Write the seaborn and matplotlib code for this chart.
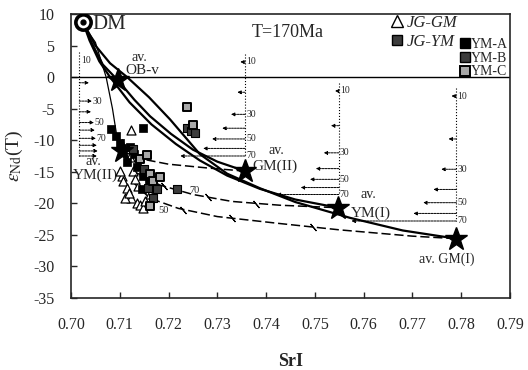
import numpy as np
import pandas as pd
import matplotlib
matplotlib.use('Agg')
import matplotlib.pyplot as plt
import seaborn as sns
from matplotlib.lines import Line2D

# ---- end-members (SrI, eNd(T)) ----
dm = (0.7024, 8.8)
ob_v = (0.7096, -0.5)
gm2 = (0.7357, -14.9)
ym1 = (0.7548, -20.7)
gm1 = (0.7790, -25.6)
ym2 = (0.7105, -11.7)

# ---- mixing curves ----
c_gm2_x = [0.7024, 0.7042, 0.7065, 0.7096, 0.7130, 0.7162, 0.7205, 0.7250, 0.7300, 0.7357]
c_gm2_y = [8.8, 5.5, 2.0, -0.5, -3.6, -6.2, -9.0, -11.5, -13.4, -14.9]
c_ym1_x = [0.7024, 0.7038, 0.7058, 0.7080, 0.7120, 0.7165, 0.7215, 0.7264, 0.7320, 0.7387, 0.7460, 0.7548]
c_ym1_y = [8.8, 5.8, 2.5, 0.0, -4.0, -7.5, -10.6, -13.2, -15.6, -17.7, -19.4, -20.7]
c_gm1_x = [0.7024, 0.7050, 0.7080, 0.7115, 0.7160, 0.7203, 0.7264, 0.7320, 0.7387, 0.7460, 0.7572, 0.7680, 0.7790]
c_gm1_y = [8.8, 5.0, 2.2, 0.0, -3.2, -6.7, -12.2, -15.3, -17.6, -19.8, -22.3, -24.3, -25.6]
c_ym2_x = [0.7024, 0.7035, 0.7050, 0.7072, 0.7085, 0.7094, 0.7103]
c_ym2_y = [8.8, 7.2, 5.5, 0.0, -5.0, -9.4, -11.7]

d_gm2_x = [0.7105, 0.7140, 0.7200, 0.7280, 0.7357]
d_gm2_y = [-11.7, -12.9, -13.8, -14.4, -14.9]
d_ym1_x = [0.7130, 0.7182, 0.7250, 0.7330, 0.7428, 0.7548]
d_ym1_y = [-15.0, -17.1, -18.6, -19.7, -20.3, -20.7]
d_gm1_x = [0.7125, 0.7162, 0.7220, 0.7300, 0.7428, 0.7550, 0.7700, 0.7790]
d_gm1_y = [-16.5, -19.2, -20.8, -22.1, -23.2, -24.2, -25.2, -25.6]
tick_x = [0.7190, 0.7280, 0.7380, 0.7230, 0.7330, 0.7496]
tick_y = [-17.3, -19.0, -20.1, -21.0, -22.4, -23.8]

# ---- samples ----
gm_x = [0.7124, 0.7104, 0.7107, 0.7114, 0.7124, 0.7111, 0.7135, 0.7141, 0.7148,
        0.7128, 0.7138, 0.7162, 0.7121, 0.7100, 0.7118, 0.7131, 0.7152]
gm_y = [-8.4, -15.7, -16.5, -17.5, -19.1, -19.1, -19.9, -20.2, -20.7,
        -14.9, -17.3, -18.6, -12.7, -14.9, -18.3, -16.2, -19.6]
ya_x = [0.7083, 0.7092, 0.7100, 0.7104, 0.7148, 0.7114, 0.7135, 0.7148, 0.7145, 0.7130, 0.7160, 0.7120]
ya_y = [-8.3, -9.3, -10.5, -11.2, -8.1, -13.5, -14.3, -15.7, -17.8, -12.2, -16.8, -11.0]
yb_x = [0.7237, 0.7245, 0.7255, 0.7217, 0.7158, 0.7169, 0.7176, 0.7128, 0.7150]
yb_y = [-8.0, -8.6, -8.8, -17.8, -17.5, -19.1, -17.8, -11.4, -14.5]
yc_x = [0.7237, 0.7141, 0.7162, 0.7169, 0.7162, 0.7182, 0.7250, 0.7155]
yc_y = [-4.8, -13.0, -15.4, -16.5, -20.4, -15.9, -7.6, -12.3]

# ---- proportion scales: position, arrow levels (10..70), arrow lengths ----
sc_left_x = 0.7017
sc_left_lev = [-0.9, -3.8, -5.5, -7.2, -8.4, -9.7, -10.8, -11.7, -12.5]
sc_left_len = [0.0020, 0.0026, 0.0024, 0.0030, 0.0032, 0.0034, 0.0036, 0.0038, 0.0036]
sc_left_lab = {'10': 2.7, '30': -3.8, '50': -7.2, '70': -9.7}

sc_x = [0.7357, 0.7549, 0.7790]
sc_lev = [[2.4, -2.4, -5.9, -8.1, -9.8, -11.3, -12.5],
          [-2.2, -7.7, -12.0, -14.5, -16.2, -17.5, -18.6],
          [-3.0, -9.8, -14.6, -17.8, -19.9, -21.6, -22.8]]
sc_len = [[0.0010, 0.0016, 0.0029, 0.0047, 0.0068, 0.0086, 0.0133],
          [0.0008, 0.0016, 0.0031, 0.0047, 0.0059, 0.0078, 0.0127],
          [0.0010, 0.0016, 0.0031, 0.0047, 0.0068, 0.0088, 0.0215]]
sc_names = ['10', '20', '30', '40', '50', '60', '70']

sns.set_style('ticks')
plt.rcParams['font.family'] = ['Liberation Serif', 'DejaVu Serif']
plt.rcParams['mathtext.fontset'] = 'stix'
plt.rcParams['axes.unicode_minus'] = False

fig = plt.figure(figsize=(5.28, 3.70), dpi=100)
ax = fig.add_axes([0.1345, 0.1946, 0.8314, 0.7676])

ax.axhline(0, color='k', lw=1.0, zorder=1)

# curves
for cx, cy in [(c_gm2_x, c_gm2_y), (c_ym1_x, c_ym1_y), (c_gm1_x, c_gm1_y)]:
    sns.lineplot(x=cx, y=cy, sort=False, estimator=None, color='k', lw=1.6, ax=ax, zorder=2)
sns.lineplot(x=c_ym2_x, y=c_ym2_y, sort=False, estimator=None, color='k', lw=0.9, ax=ax, zorder=2)
for cx, cy in [(d_gm2_x, d_gm2_y), (d_ym1_x, d_ym1_y), (d_gm1_x, d_gm1_y)]:
    sns.lineplot(x=cx, y=cy, sort=False, estimator=None, color='k', lw=1.1,
                 dashes=False, linestyle=(0, (6, 2.5)), ax=ax, zorder=2)
ax.plot(tick_x, tick_y, ls='none', marker=(2, 2, 40), ms=6.5, mew=0.8, color='k', zorder=2)

# proportion scales
top_left = sc_left_lab['10'] + 1.2
ax.plot([sc_left_x, sc_left_x], [top_left, sc_left_lev[-1]], ls=':', color='k', lw=0.8)
for lv, ln in zip(sc_left_lev, sc_left_len):
    ax.annotate('', xy=(sc_left_x + ln, lv), xytext=(sc_left_x, lv),
                arrowprops=dict(arrowstyle='-|>', lw=0.7, color='k', mutation_scale=5,
                                shrinkA=0, shrinkB=0, linestyle=(0, (2, 1))))
for lab, lv in sc_left_lab.items():
    xo = 0.0003 if lab == '10' else sc_left_len[sc_left_lev.index(lv)] + 0.0001
    ax.text(sc_left_x + xo, lv, lab, fontsize=7, va='center', ha='left')

for sx, lev, lens in zip(sc_x, sc_lev, sc_len):
    ax.plot([sx, sx], [lev[0] + 1.2, lev[-1]], ls=':', color='k', lw=0.8)
    for lv, ln in zip(lev, lens):
        ax.annotate('', xy=(sx - ln, lv), xytext=(sx, lv),
                    arrowprops=dict(arrowstyle='-|>', lw=0.7, color='k', mutation_scale=5,
                                    shrinkA=0, shrinkB=0, linestyle=(0, (2, 1))))
    for name, lv in zip(sc_names, lev):
        if name in ('10', '30', '50', '70'):
            ax.text(sx + 0.0002, lv, name, fontsize=7, va='center', ha='left')

# samples
sns.scatterplot(x=gm_x, y=gm_y, marker='^', s=42, facecolor='white', edgecolor='k',
                linewidth=0.9, ax=ax, zorder=4)
sns.scatterplot(x=ya_x, y=ya_y, marker='s', s=40, color='k', edgecolor='k', ax=ax, zorder=5)
sns.scatterplot(x=yb_x, y=yb_y, marker='s', s=40, facecolor='#3c3c3c', edgecolor='k',
                linewidth=0.8, ax=ax, zorder=5)
sns.scatterplot(x=yc_x, y=yc_y, marker='s', s=40, facecolor='#a8a8a8', edgecolor='k',
                linewidth=1.4, ax=ax, zorder=5)

# end-member stars and DM
stars = [ob_v, gm2, ym1, gm1, ym2]
ax.plot([p[0] for p in stars], [p[1] for p in stars], ls='none', marker='*', ms=17,
        color='k', zorder=6)
ax.plot(dm[0], dm[1], marker='o', ms=11, mfc='white', mec='k', mew=2.6, zorder=6)
ax.plot(dm[0], dm[1], marker='o', ms=3.5, color='k', zorder=7)

# labels
ax.text(0.7044, 8.3, 'DM', fontsize=15, va='center', ha='left')
ax.text(0.7371, 7.1, 'T=170Ma', fontsize=13, va='center', ha='left')
ax.text(0.7141, 3.1, 'av.', fontsize=10, va='center', ha='center')
ax.text(0.7147, 1.1, 'OB-v', fontsize=11, va='center', ha='center')
ax.text(0.7046, -13.3, 'av.', fontsize=10, va='center', ha='center')
ax.text(0.7050, -15.5, 'YM(II)', fontsize=11, va='center', ha='center')
ax.text(0.7422, -11.7, 'av.', fontsize=10, va='center', ha='center')
ax.text(0.7372, -14.2, 'GM(II)', fontsize=11, va='center', ha='left')
ax.text(0.7593, -18.6, 'av.', fontsize=10, va='center', ha='left')
ax.text(0.7574, -21.5, 'YM(I)', fontsize=11, va='center', ha='left')
ax.text(0.7770, -28.8, 'av. GM(I)', fontsize=10, va='center', ha='center')
ax.text(0.7243, -17.9, '70', fontsize=7.5, va='center', ha='left')
ax.text(0.7180, -21.1, '50', fontsize=7.5, va='center', ha='left')

# legends
h1 = [Line2D([], [], ls='none', marker='^', ms=8, mfc='white', mec='k'),
      Line2D([], [], ls='none', marker='s', ms=6.5, mfc='#3c3c3c', mec='k')]
leg1 = ax.legend(h1, ['JG-GM', 'JG-YM'], loc='upper left', bbox_to_anchor=(0.712, 1.02),
                 frameon=False, handlelength=0.8, handletextpad=0.2, labelspacing=0.2,
                 borderaxespad=0, prop={'family': 'Liberation Serif', 'style': 'italic', 'size': 12})
ax.add_artist(leg1)
h2 = [Line2D([], [], ls='none', marker='s', ms=6.5, mfc='k', mec='k'),
      Line2D([], [], ls='none', marker='s', ms=6.5, mfc='#3c3c3c', mec='k'),
      Line2D([], [], ls='none', marker='s', ms=6.5, mfc='#a8a8a8', mec='k', mew=1.4)]
ax.legend(h2, ['YM-A', 'YM-B', 'YM-C'], loc='upper left', bbox_to_anchor=(0.875, 0.935),
          frameon=False, handlelength=0.6, handletextpad=0.15, labelspacing=0.05,
          borderaxespad=0, prop={'family': 'Liberation Serif', 'size': 10})

ax.set_xlim(0.70, 0.79)
ax.set_ylim(-35, 10)
ax.set_xticks(np.arange(0.70, 0.7901, 0.01))
ax.set_xticklabels([f'{v:.2f}' for v in np.arange(0.70, 0.7901, 0.01)])
ax.set_yticks(np.arange(-35, 11, 5))
ax.tick_params(direction='in', length=4, width=1, labelsize=11.5, pad=12)
ax.tick_params(axis='x', pad=14)
for sp in ax.spines.values():
    sp.set_visible(True)
    sp.set_linewidth(1.2)

ax.set_xlabel('SrI', fontsize=13, fontweight='bold', labelpad=14)
ax.set_ylabel(r'$\varepsilon_{\rm Nd}$(T)', fontsize=14, labelpad=6)

fig.savefig('out.png', dpi=100)
